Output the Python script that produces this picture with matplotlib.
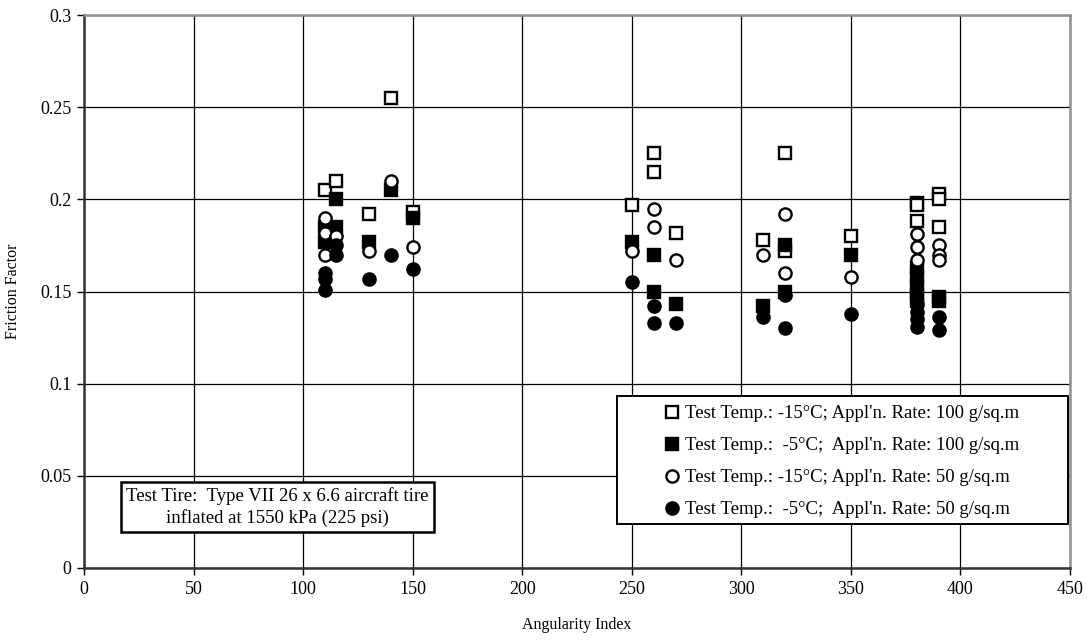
import matplotlib
matplotlib.use('Agg')
import matplotlib.pyplot as plt
from matplotlib.patches import Rectangle

plt.rcParams['font.family'] = ['Liberation Serif', 'DejaVu Serif']

# -15C, 100 g/sq.m
open_sq_x = [110, 115, 130, 140, 150, 250, 260, 260, 270, 310, 320, 320, 350, 380, 380, 380, 390, 390, 390]
open_sq_y = [0.205, 0.210, 0.192, 0.255, 0.193, 0.197, 0.225, 0.215, 0.182, 0.178, 0.225, 0.172, 0.180,
             0.198, 0.197, 0.188, 0.203, 0.200, 0.185]

# -5C, 100 g/sq.m
fill_sq_x = [110, 110, 115, 115, 130, 140, 150, 250, 260, 260, 270, 310, 320, 320, 350,
             380, 380, 380, 380, 380, 390, 390]
fill_sq_y = [0.185, 0.177, 0.200, 0.185, 0.177, 0.205, 0.190, 0.177, 0.170, 0.150, 0.143, 0.142, 0.175, 0.150, 0.170,
             0.163, 0.158, 0.153, 0.148, 0.145, 0.147, 0.145]

# -15C, 50 g/sq.m
open_ci_x = [110, 110, 110, 115, 130, 140, 150, 250, 260, 260, 270, 310, 320, 320, 350,
             380, 380, 380, 390, 390, 390]
open_ci_y = [0.190, 0.182, 0.170, 0.180, 0.172, 0.210, 0.174, 0.172, 0.195, 0.185, 0.167, 0.170, 0.192, 0.160, 0.158,
             0.181, 0.174, 0.167, 0.175, 0.170, 0.167]

# -5C, 50 g/sq.m
fill_ci_x = [110, 110, 110, 115, 115, 130, 140, 150, 250, 260, 260, 270, 310, 320, 320, 350,
             380, 380, 380, 380, 390, 390]
fill_ci_y = [0.160, 0.157, 0.151, 0.175, 0.170, 0.157, 0.170, 0.162, 0.155, 0.142, 0.133, 0.133, 0.136, 0.148, 0.130, 0.138,
             0.143, 0.139, 0.135, 0.131, 0.136, 0.129]

labels = ["Test Temp.: -15\u00b0C; Appl'n. Rate: 100 g/sq.m",
          "Test Temp.:  -5\u00b0C;  Appl'n. Rate: 100 g/sq.m",
          "Test Temp.: -15\u00b0C; Appl'n. Rate: 50 g/sq.m",
          "Test Temp.:  -5\u00b0C;  Appl'n. Rate: 50 g/sq.m"]

x_ticks = [0, 50, 100, 150, 200, 250, 300, 350, 400, 450]
y_ticks = [0, 0.05, 0.1, 0.15, 0.2, 0.25, 0.3]
y_ticklabels = ['0', '0.05', '0.1', '0.15', '0.2', '0.25', '0.3']

fig = plt.figure(figsize=(10.89, 6.41), dpi=100)
ax = fig.add_axes([84 / 1089, 1 - 568 / 641, 986 / 1089, 553 / 641])

ms = 8.8
mew = 1.7
series = [(open_sq_x, open_sq_y, 's', 'white'),
          (fill_sq_x, fill_sq_y, 's', 'black'),
          (open_ci_x, open_ci_y, 'o', 'white'),
          (fill_ci_x, fill_ci_y, 'o', 'black')]
handles = []
for i, (xs, ys, mk, face) in enumerate(series):
    h, = ax.plot(xs, ys, linestyle='none', marker=mk, markersize=ms, markeredgewidth=mew,
                 markerfacecolor=face, markeredgecolor='black', label=labels[i], zorder=3 + i * 0.1)
    handles.append(h)

ax.set_xlim(0, 450)
ax.set_ylim(0, 0.3)
ax.set_xticks(x_ticks)
ax.set_yticks(y_ticks)
ax.set_yticklabels(y_ticklabels)
ax.grid(True, color='black', linewidth=0.9)
ax.set_axisbelow(True)
ax.tick_params(direction='out', length=5, width=1, labelsize=13, color='black', pad=4)

for side in ['left', 'bottom']:
    ax.spines[side].set_color('#333333')
    ax.spines[side].set_linewidth(1.8)
for side in ['top', 'right']:
    ax.spines[side].set_color('#909090')
    ax.spines[side].set_linewidth(1.8)

ax.set_xlabel('Angularity Index', fontsize=11.5, labelpad=14)
ax.set_ylabel('Friction Factor', fontsize=11.5, labelpad=14)

# legend frame drawn by hand so the entries can sit indented inside it
ax.add_patch(Rectangle((0.5406, 0.0796), 0.4574, 0.2314, transform=ax.transAxes,
                       facecolor='white', edgecolor='black', linewidth=1.4, zorder=5, clip_on=False))
leg = ax.legend(handles=handles, loc='upper left', bbox_to_anchor=(0.5868, 0.2945), frameon=False,
                borderpad=0, borderaxespad=0, handlelength=1.0, handletextpad=0.2,
                labelspacing=0.79, fontsize=13.5, numpoints=1)
leg.set_zorder(6)

ax.text(0.1962, 0.1103, 'Test Tire:  Type VII 26 x 6.6 aircraft tire\ninflated at 1550 kPa (225 psi)',
        transform=ax.transAxes, ha='center', va='center', multialignment='center', fontsize=13.5,
        linespacing=1.3,
        bbox=dict(boxstyle='square,pad=0.28', facecolor='white', edgecolor='black', linewidth=1.8), zorder=6)

fig.savefig('out.png', dpi=100)
